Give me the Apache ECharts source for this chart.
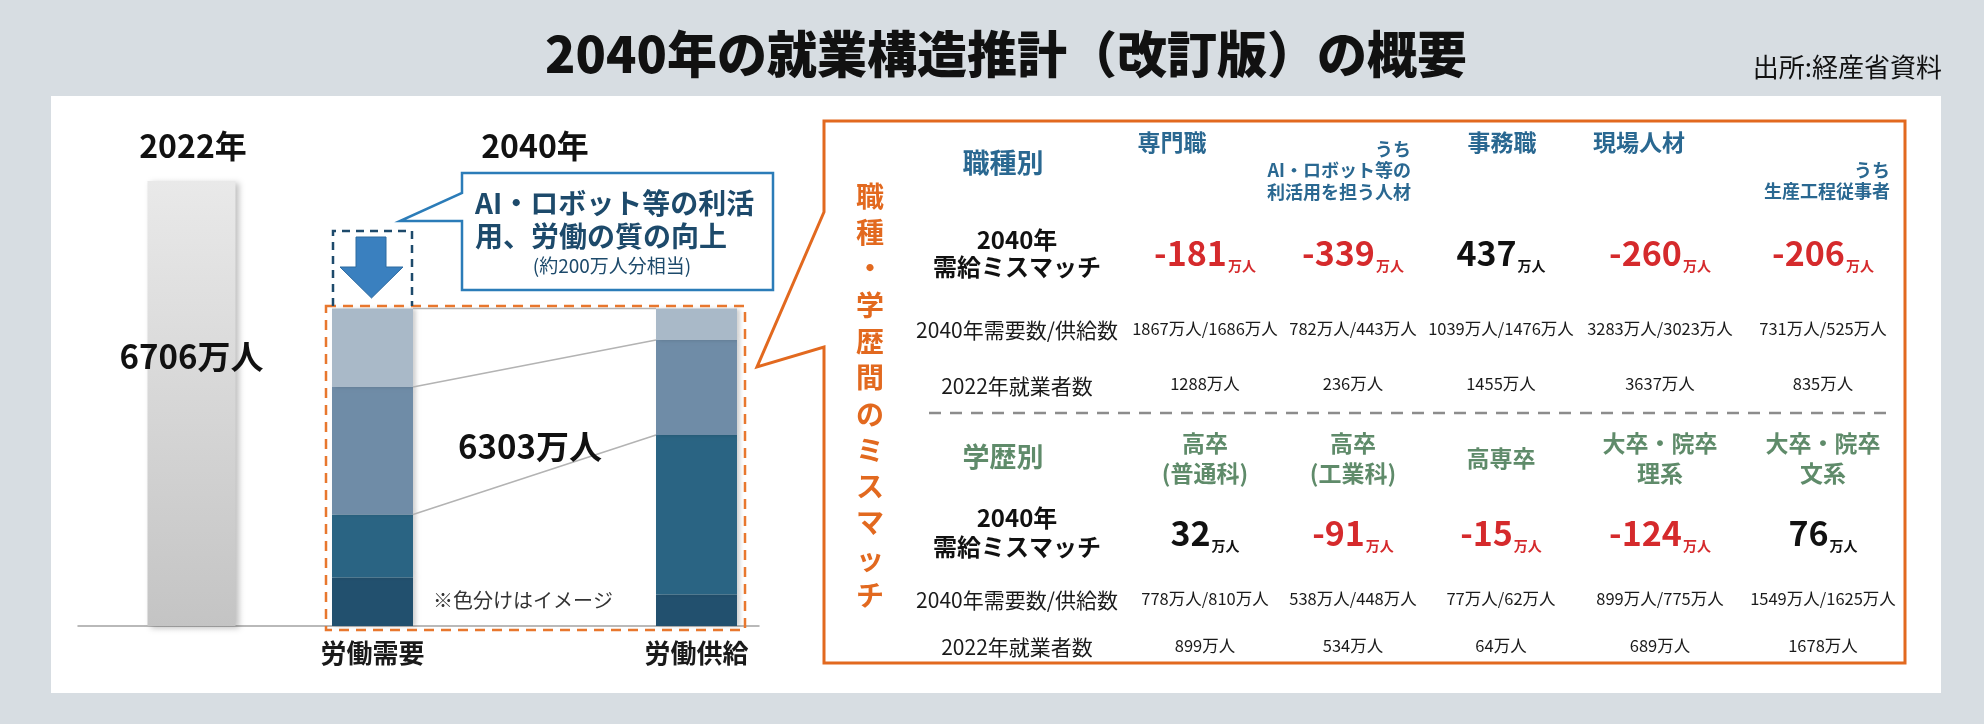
<!DOCTYPE html>
<html lang="ja">
<head>
<meta charset="utf-8">
<title>2040年の就業構造推計（改訂版）の概要</title>
<script src="https://cdn.jsdelivr.net/npm/echarts@6/dist/echarts.min.js"></script>
<style>
  html, body { margin:0; padding:0; background:#d7dde2; }
  #chart { width:1984px; height:724px; }
</style>
</head>
<body>
<div id="chart"></div>
<script>
const FONT = '"Noto Sans CJK JP", "Noto Sans", sans-serif'

// left chart
const yearLabels = ['2022年', '2040年']
const employed2022 = 6706
const labourCats = ['労働需要', '労働供給']
const total2040 = 6303
// segments bottom -> top; the split in the picture is only illustrative (※色分けはイメージ)
const demandSegments = [963, 1251, 2531, 1558]
const supplySegments = [626, 3166, 1886, 625]
const segmentColors = ['#22506e', '#2a6483', '#6f8ca7', '#a9b9c8']

// table: by occupation
const jobHeaders = ['専門職', 'うち\nAI・ロボット等の\n利活用を担う人材', '事務職', '現場人材', 'うち\n生産工程従事者']
const jobMismatch = [-181, -339, 437, -260, -206]
const jobDemand = [1867, 782, 1039, 3283, 731]
const jobSupply = [1686, 443, 1476, 3023, 525]
const jobEmployed = [1288, 236, 1455, 3637, 835]

// table: by education
const eduHeaders = ['高卒\n(普通科)', '高卒\n(工業科)', '高専卒', '大卒・院卒\n理系', '大卒・院卒\n文系']
const eduMismatch = [32, -91, -15, -124, 76]
const eduDemand = [778, 538, 77, 899, 1549]
const eduSupply = [810, 448, 62, 775, 1625]
const eduEmployed = [899, 534, 64, 689, 1678]

const RED = '#d52a2c'
const BLUE_HEAD = '#2a6891'
const GREEN_HEAD = '#5f8b6a'
const ORANGE = '#e2691f'
const NAVY = '#1d4a6b'

function txt(x, y, text, opt={}){
  return {
    type: 'text', x, y, z: 10,
    style: Object.assign({
      text,
      fontFamily: FONT,
      fontSize: 20,
      fontWeight: 'normal',
      fill: '#1a1a1a',
      align: 'center',
      verticalAlign: 'middle',
    }, opt),
  }
}

function mismatchText(x, y, v){
  const color = v < 0 ? RED : '#111'
  return {
    type: 'text', x, y, z: 10,
    style: {
      text: `{v|${v}}{u|万人}`,
      align: 'center',
      verticalAlign: 'middle',
      rich: {
        v: { fontFamily: FONT, fontSize: 34, fontWeight: 'bold', fill: color, lineHeight: 40 },
        u: { fontFamily: FONT, fontSize: 14, fontWeight: 'bold', fill: color, verticalAlign: 'bottom', lineHeight: 40, padding: [0, 0, 0, 1] },
      },
    },
  }
}

const colX = [1205, 1353, 1501, 1660, 1823]
const jobHeaderLayout = [
  { x: 1172, y: 142, align: 'center', verticalAlign: 'middle', fontSize: 23 },
  { x: 1411, y: 138, align: 'right', verticalAlign: 'top', fontSize: 18, lineHeight: 21.5 },
  { x: 1502, y: 142, align: 'center', verticalAlign: 'middle', fontSize: 23 },
  { x: 1639, y: 142, align: 'center', verticalAlign: 'middle', fontSize: 23 },
  { x: 1890, y: 159, align: 'right', verticalAlign: 'top', fontSize: 18, lineHeight: 21.5 },
]

function tableGraphics(){
  const g = []
  // orange frame with pointer towards the 2040 bars
  g.push({
    type: 'polygon', z: 5,
    shape: { points: [[824, 121], [1905, 121], [1905, 663], [824, 663], [824, 347], [757, 367], [824, 212]] },
    style: { fill: '#fff', stroke: ORANGE, lineWidth: 3 },
  })
  g.push(txt(870, 178, '職種・学歴間のミスマッチ'.split('').join('\n'), {
    fontSize: 28, fontWeight: 'bold', fill: ORANGE, verticalAlign: 'top', lineHeight: 36.3,
  }))
  // occupation block
  g.push(txt(1003, 163, '職種別', { fontSize: 27, fontWeight: 'bold', fill: BLUE_HEAD }))
  jobHeaders.forEach((h, i) => {
    const l = jobHeaderLayout[i]
    g.push(txt(l.x, l.y, h, {
      fontSize: l.fontSize, fontWeight: 'bold', fill: BLUE_HEAD,
      align: l.align, verticalAlign: l.verticalAlign, lineHeight: l.lineHeight || l.fontSize * 1.2,
    }))
  })
  g.push(txt(1017, 253.5, '2040年\n需給ミスマッチ', { fontSize: 24, fontWeight: 'bold', fill: '#111', lineHeight: 27 }))
  g.push(txt(1017, 330, '2040年需要数/供給数', { fontSize: 21 }))
  g.push(txt(1017, 386, '2022年就業者数', { fontSize: 21 }))
  jobMismatch.forEach((v, i) => {
    g.push(mismatchText(colX[i], 253, v))
    g.push(txt(colX[i], 329, `${jobDemand[i]}万人/${jobSupply[i]}万人`, { fontSize: 16.5 }))
    g.push(txt(colX[i], 384, `${jobEmployed[i]}万人`, { fontSize: 16.5 }))
  })
  // separator
  g.push({
    type: 'line', z: 6,
    shape: { x1: 929, y1: 413, x2: 1886, y2: 413 },
    style: { stroke: '#8c8c8c', lineWidth: 2.5, lineDash: [12, 9] },
  })
  // education block
  g.push(txt(1003, 457, '学歴別', { fontSize: 27, fontWeight: 'bold', fill: GREEN_HEAD }))
  eduHeaders.forEach((h, i) => {
    g.push(txt(colX[i], 458, h, { fontSize: 23, fontWeight: 'bold', fill: GREEN_HEAD, lineHeight: 30 }))
  })
  g.push(txt(1017, 532.5, '2040年\n需給ミスマッチ', { fontSize: 24, fontWeight: 'bold', fill: '#111', lineHeight: 29 }))
  g.push(txt(1017, 600, '2040年需要数/供給数', { fontSize: 21 }))
  g.push(txt(1017, 647, '2022年就業者数', { fontSize: 21 }))
  eduMismatch.forEach((v, i) => {
    g.push(mismatchText(colX[i], 533, v))
    g.push(txt(colX[i], 599, `${eduDemand[i]}万人/${eduSupply[i]}万人`, { fontSize: 16.5 }))
    g.push(txt(colX[i], 646, `${eduEmployed[i]}万人`, { fontSize: 16.5 }))
  })
  return g
}

function leftGraphics(){
  return [
    txt(193, 146, yearLabels[0], { fontSize: 32, fontWeight: 'bold', fill: '#111' }),
    txt(535, 146, yearLabels[1], { fontSize: 32, fontWeight: 'bold', fill: '#111' }),
    // dashed frame around the 2040 bars
    {
      type: 'rect', z: 8,
      shape: { x: 326, y: 306, width: 419, height: 324 },
      style: { fill: 'none', stroke: '#e8772e', lineWidth: 2.5, lineDash: [10, 7] },
    },
    // dashed frame around the arrow
    {
      type: 'polyline', z: 8,
      shape: { points: [[333, 306], [333, 231], [412, 231], [412, 306]] },
      style: { fill: 'none', stroke: NAVY, lineWidth: 2.5, lineDash: [8, 6] },
    },
    {
      type: 'polygon', z: 8,
      shape: { points: [[356, 237], [386, 237], [386, 267], [403, 267], [371.5, 298], [340, 267], [356, 267]] },
      style: { fill: '#3a80bf', stroke: '#2c6aa0', lineWidth: 1 },
    },
    // speech box
    {
      type: 'polygon', z: 8,
      shape: { points: [[462, 173], [773, 173], [773, 290], [462, 290], [462, 221], [400, 221], [462, 193]] },
      style: { fill: '#fff', stroke: '#2b7cb8', lineWidth: 2.5 },
    },
    txt(475, 203, 'AI・ロボット等の利活', { fontSize: 28, fontWeight: 'bold', fill: NAVY, align: 'left' }),
    txt(475, 236, '用、労働の質の向上', { fontSize: 28, fontWeight: 'bold', fill: NAVY, align: 'left' }),
    txt(612, 266, '(約200万人分相当)', { fontSize: 19, fill: NAVY }),
    txt(530, 446, `${total2040}万人`, { fontSize: 33, fontWeight: 'bold', fill: '#111' }),
    txt(433, 600, '※色分けはイメージ', { fontSize: 20, fill: '#333', align: 'left' }),
  ]
}

// connector lines between matching segment boundaries
const boundaries = []
{
  let d = 0, s = 0
  for(let k = 0; k < demandSegments.length; k++){
    d += demandSegments[k]
    s += supplySegments[k]
    if(k > 0) boundaries.push([0, d, s])
  }
}

const chart = echarts.init(document.getElementById('chart'), null, { renderer: 'canvas' })
chart.setOption({
  backgroundColor: '#d7dde2',
  animation: false,
  grid: [
    { left: 78, width: 681, top: 181, height: 445 },
    { left: 210.5, width: 648, top: 308.5, height: 317.5 },
  ],
  xAxis: [
    {
      gridIndex: 0, type: 'category', data: [yearLabels[0], '', ''],
      axisLine: { lineStyle: { color: '#a3a3a3', width: 1.5 } },
      axisTick: { show: false }, axisLabel: { show: false },
    },
    {
      gridIndex: 1, type: 'category', data: labourCats,
      axisLine: { show: false }, axisTick: { show: false },
      axisLabel: { fontFamily: FONT, fontSize: 26, fontWeight: 'bold', color: '#1a1a1a', margin: 14 },
    },
  ],
  yAxis: [
    { gridIndex: 0, type: 'value', min: 0, max: employed2022, show: false },
    { gridIndex: 1, type: 'value', min: 0, max: total2040, show: false },
  ],
  series: [
    {
      type: 'bar', xAxisIndex: 0, yAxisIndex: 0, barWidth: 88, z: 3,
      data: [employed2022],
      itemStyle: {
        color: new echarts.graphic.LinearGradient(0, 0, 0, 1, [
          { offset: 0, color: '#e9e9e9' },
          { offset: 1, color: '#c4c4c4' },
        ]),
        shadowColor: 'rgba(0,0,0,0.25)', shadowBlur: 6, shadowOffsetX: 3, shadowOffsetY: 2,
      },
      label: {
        show: true, position: ['50%', '39.5%'], align: 'center', verticalAlign: 'middle',
        formatter: `${employed2022}万人`,
        fontFamily: FONT, fontSize: 33, fontWeight: 'bold', color: '#111',
      },
    },
    ...demandSegments.map((v, k) => ({
      type: 'bar', xAxisIndex: 1, yAxisIndex: 1, stack: '2040', barWidth: 81, z: 3,
      data: [demandSegments[k], supplySegments[k]],
      itemStyle: { color: segmentColors[k], shadowColor: 'rgba(0,0,0,0.18)', shadowBlur: 4, shadowOffsetX: 3 },
    })),
    {
      type: 'custom', xAxisIndex: 1, yAxisIndex: 1, z: 4, clip: false,
      encode: { x: 0, y: 1 },
      data: boundaries,
      renderItem: (params, api) => {
        const half = 81 / 2
        const p0 = api.coord([0, api.value(1)])
        const p1 = api.coord([1, api.value(2)])
        return {
          type: 'line',
          shape: { x1: p0[0] + half, y1: p0[1], x2: p1[0] - half, y2: p1[1] },
          style: { stroke: '#b3b3b3', lineWidth: 1.5 },
        }
      },
    },
  ],
  graphic: [
    { type: 'rect', z: -10, shape: { x: 51, y: 96, width: 1890, height: 597 }, style: { fill: '#ffffff' } },
    txt(1006, 54, '2040年の就業構造推計（改訂版）の概要', { fontSize: 50, fontWeight: 900, fill: '#111' }),
    txt(1942, 67, '出所:経産省資料', { fontSize: 26, fill: '#111', align: 'right' }),
    ...tableGraphics(),
    ...leftGraphics(),
  ],
})
</script>
</body>
</html>
